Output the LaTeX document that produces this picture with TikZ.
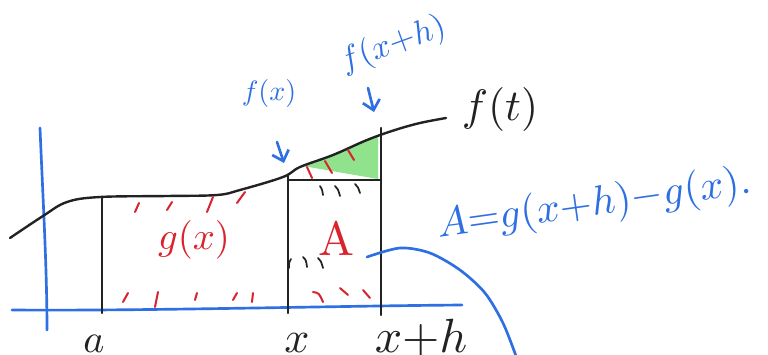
\documentclass[tikz,border=0pt]{standalone}
\usepackage{graphicx}
\usetikzlibrary{arrows.meta}
\definecolor{penblue}{HTML}{2E6FE3}
\definecolor{penred}{HTML}{D9232E}
\definecolor{pengreen}{HTML}{90E38C}
\definecolor{penblack}{HTML}{222222}
\newcommand{\sz}[2]{\scalebox{#1}{#2}}
\tikzset{
  blackpen/.style={draw=penblack,line width=1.8pt,line cap=round,line join=round},
  bluepen/.style={draw=penblue,line width=2pt,line cap=round,line join=round},
  redmark/.style={draw=penred,line width=1.5pt,line cap=round},
  blackmark/.style={draw=penblack,line width=1.3pt,line cap=round},
  bluearrow/.style={bluepen,-{Straight Barb[length=7pt,width=13pt,line width=2pt]}},
  lbl/.style={inner sep=0pt},
}
\begin{document}
\begin{tikzpicture}[x=0.75pt,y=-0.75pt]
\useasboundingbox (0,0) rectangle (768,354);
\fill[white] (0,0) rectangle (768,354);
% green region
\fill[pengreen] (303,179) -- (303,166) plot[smooth] coordinates {(303,166) (333,155) (360,143) (378,136)} -- (378,179) -- cycle;
% axes
\coordinate (xa0) at (12,310);
\coordinate (xa1) at (462,305);
\coordinate (ya0) at (40,128);
\coordinate (ya1) at (47,330);
\draw[bluepen] (xa0) .. controls (150,311) and (330,306) .. (xa1);
\draw[bluepen] (ya0) .. controls (43,200) and (47,270) .. (ya1);
% curve f(t)
\draw[blackpen] plot[smooth,tension=0.6] coordinates {(10,238) (43,216) (67,202) (100,197) (167,196) (217,195) (240,190) (283,177) (300,167) (333,155) (367,140) (395,130) (420,123) (446,118)};
% vertical lines
\coordinate (a0) at (102,197); \coordinate (a1) at (102,313);
\coordinate (x0) at (288,176); \coordinate (x1) at (288,313);
\coordinate (h0) at (381,128); \coordinate (h1) at (381,315);
\draw[blackpen] (a0) -- (a1);
\draw[blackpen] (x0) -- (x1);
\draw[blackpen] (h0) -- (h1);
\draw[blackpen] (x0 |- 0,180) -- (h0 |- 0,180);
% red marks in g(x) box
\draw[redmark] (135,212) -- (139,203);
\draw[redmark] (167,210) -- (172,202);
\draw[redmark] (207,212) -- (213,197);
\draw[redmark] (237,203) -- (245,192);
\draw[redmark] (123,302) -- (128,293);
\draw[redmark] (155,307) -- (158,292);
\draw[redmark] (195,300) -- (197,293);
\draw[redmark] (233,300) -- (237,293);
\draw[redmark] (252,302) -- (253,293);
% red marks in green region
\draw[redmark] (307,167) -- (312,178);
\draw[redmark] (325,161) -- (332,173);
\draw[redmark] (348,150) -- (354,160);
% red marks bottom of A box
\draw[redmark] (313,292) .. controls (319,293) .. (323,302);
\draw[redmark] (340,288) -- (348,295);
\draw[redmark] (363,290) -- (370,298);
% black marks
\draw[blackmark] (320,186) .. controls (322,189) .. (323,195);
\draw[blackmark] (335,186) .. controls (338,189) .. (340,196);
\draw[blackmark] (355,184) .. controls (358,187) .. (360,193);
\draw[blackmark] (289,268) .. controls (289,262) .. (291,259);
\draw[blackmark] (303,257) .. controls (306,260) .. (307,267);
\draw[blackmark] (318,258) .. controls (321,261) .. (323,268);
% blue curve
\draw[bluepen] plot[smooth] coordinates {(367,257) (400,248) (430,253) (460,270) (485,293) (503,323) (516,356)};
% labels
\node[lbl,text=penred] (gx) at (194,240) {\sz{2.9}{$g(x)$}};
\node[lbl,text=penred] (A) at (336,238) {\sz{3.6}{A}};
\node[lbl,text=penblack] (ft) at (500,109) {\sz{3.3}{$f(t)$}};
\node[lbl,text=penblue] (fx) at (269,93) {\sz{2.1}{$f(x)$}};
\node[lbl,text=penblue,rotate=20] (fxh) at (393,45) {\sz{2.5}{$f(x{+}h)$}};
\node[lbl,text=penblue,rotate=8] (eq) at (594,205) {\sz{3.1}{$A{=}g(x{+}h){-}g(x).$}};
\node[lbl,text=penblack,anchor=base] (la) at (94,352) {\sz{3}{$a$}};
\node[lbl,text=penblack,anchor=base] (lx) at (297,352) {\sz{3.3}{$x$}};
\node[lbl,text=penblack,anchor=base] (lxh) at (421,352) {\sz{3.6}{$x{+}h$}};
% arrows
\coordinate (fxtip) at (284,163);
\coordinate (fxhtip) at (374,112);
\draw[bluearrow] (277,142) -- (fxtip);
\draw[bluearrow] (368,88) -- (fxhtip);
\end{tikzpicture}
\end{document}
